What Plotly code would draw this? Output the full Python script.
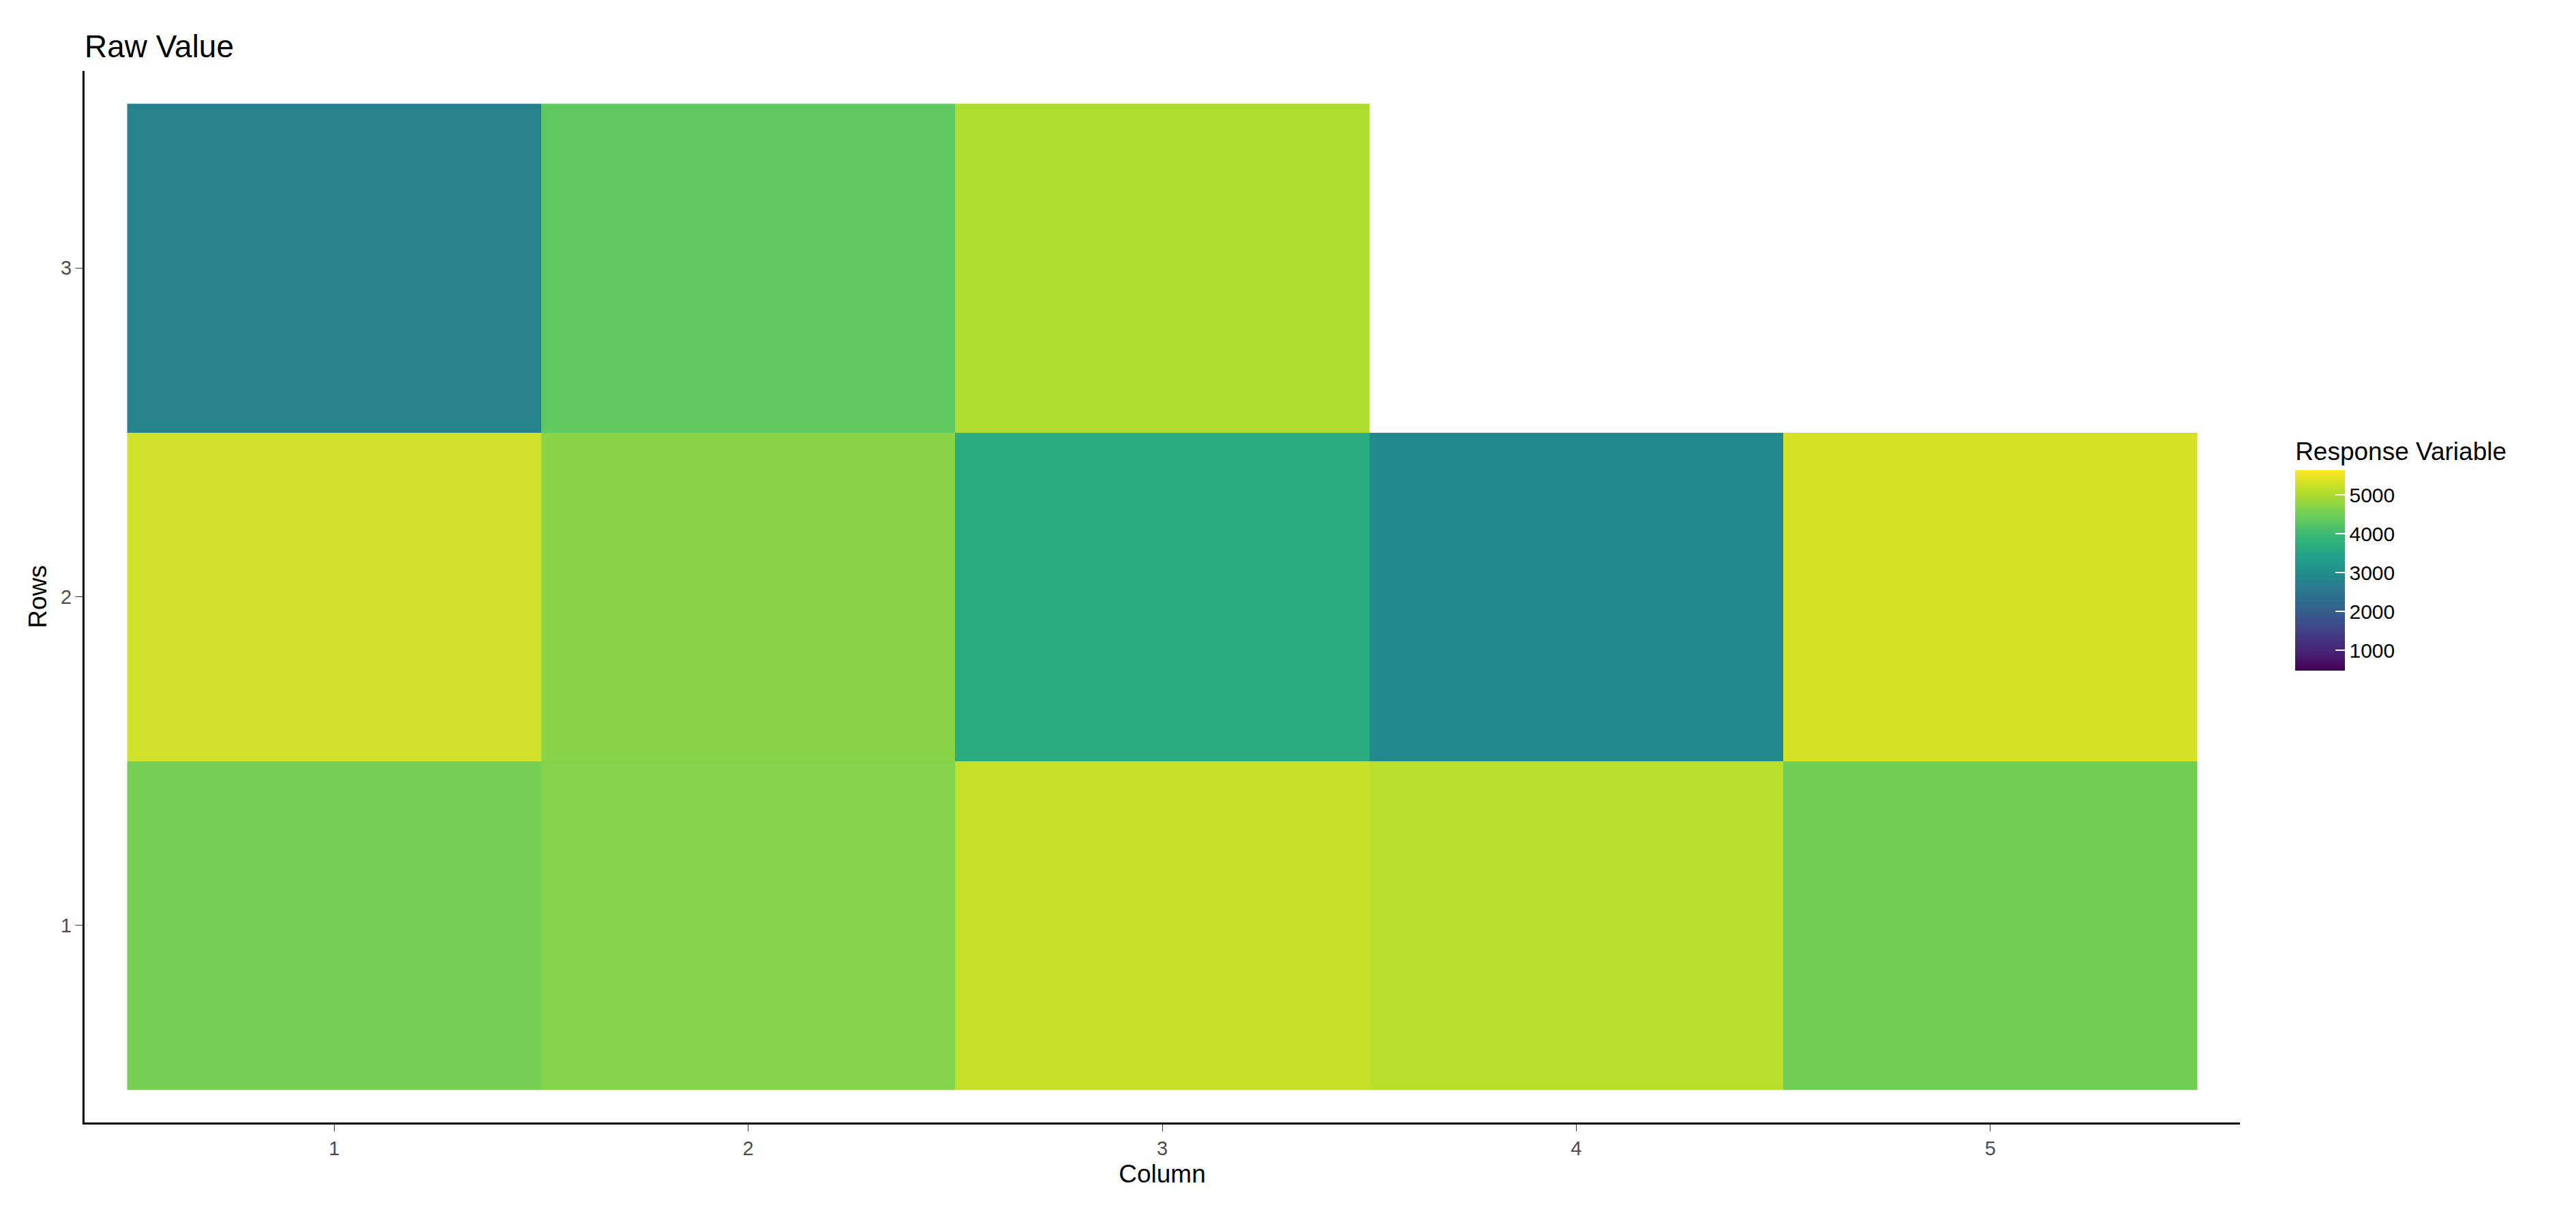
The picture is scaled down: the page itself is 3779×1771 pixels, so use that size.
import plotly.graph_objects as go

columns = [1, 2, 3, 4, 5]
rows = [1, 2, 3]
# values per row (bottom to top), None = empty cell
row1 = [4560, 4660, 5200, 5100, 4530]
row2 = [5280, 4710, 3680, 2910, 5330]
row3 = [2800, 4350, 5020, None, None]
z_min = 485
z_max = 5640
cbar_ticks = [1000, 2000, 3000, 4000, 5000]

fig = go.Figure()
fig.add_trace(
    go.Heatmap(
        x=columns,
        y=rows,
        z=[row1, row2, row3],
        zmin=z_min,
        zmax=z_max,
        colorscale="Viridis",
        hoverongaps=False,
        colorbar=dict(
            title=dict(text="Response Variable<br> ", side="top",
                       font=dict(size=37, color="black")),
            tickvals=cbar_ticks,
            ticks="inside",
            tickcolor="white",
            ticklen=14,
            tickwidth=2,
            tickfont=dict(size=30, color="black"),
            thickness=73,
            len=360,
            lenmode="pixels",
            x=1.0225,
            xanchor="left",
            y=0.54,
            yanchor="middle",
            outlinewidth=0,
        ),
    )
)

fig.update_layout(
    title=dict(text="Raw Value", x=116 / 3779, xanchor="left", y=0.975,
               font=dict(size=46, color="black")),
    font=dict(family="Liberation Sans, Arial, sans-serif"),
    plot_bgcolor="white",
    paper_bgcolor="white",
    width=3779,
    height=1771,
    margin=dict(l=116, r=501, t=96, b=132),
    xaxis=dict(
        title=dict(text="Column", font=dict(size=37, color="black"), standoff=10),
        range=[0.397, 5.603],
        tickvals=columns,
        ticks="outside", ticklen=10, tickcolor="#333333",
        tickfont=dict(size=29, color="#4d4d4d"),
        showline=True, linecolor="black", linewidth=3,
        showgrid=False, zeroline=False,
    ),
    yaxis=dict(
        title=dict(text="Rows", font=dict(size=37, color="black"), standoff=10),
        range=[0.4, 3.6],
        tickvals=rows,
        ticks="outside", ticklen=10, tickcolor="#333333",
        tickfont=dict(size=29, color="#4d4d4d"),
        showline=True, linecolor="black", linewidth=3,
        showgrid=False, zeroline=False,
    ),
)

fig.write_html("out.html")
